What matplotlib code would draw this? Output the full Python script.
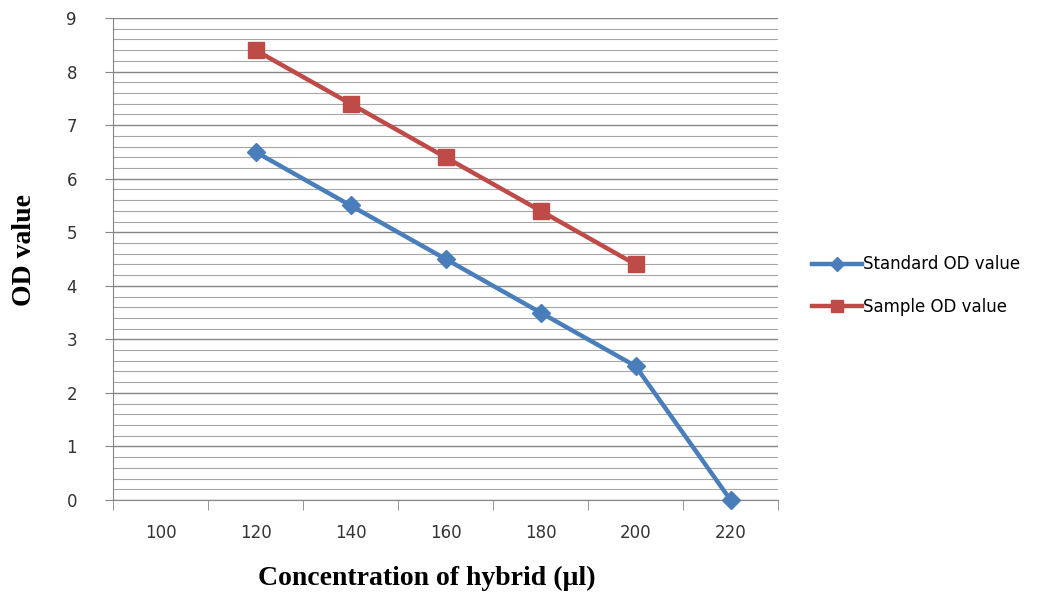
import numpy as np
import matplotlib.pyplot as plt
from matplotlib.ticker import MultipleLocator

categories = [100, 120, 140, 160, 180, 200, 220]
standard_od = [np.nan, 6.5, 5.5, 4.5, 3.5, 2.5, 0.0]
sample_od = [np.nan, 8.4, 7.4, 6.4, 5.4, 4.4, np.nan]

blue = "#4a7ebb"
red = "#be4b48"

fig = plt.figure(figsize=(10.38, 6.01), dpi=100)
ax = fig.add_axes([0.1089, 0.168, 0.6407, 0.802])

x = np.arange(len(categories))
ax.plot(x, standard_od, color=blue, lw=3.2, marker="D", markersize=9.5,
        label="Standard OD value", clip_on=False, zorder=3)
ax.plot(x, sample_od, color=red, lw=3.2, marker="s", markersize=11.5,
        label="Sample OD value", clip_on=False, zorder=3)

ax.set_xlim(-0.5, len(categories) - 0.5)
ax.set_ylim(0, 9)
ax.yaxis.set_major_locator(MultipleLocator(1))
ax.yaxis.set_minor_locator(MultipleLocator(0.2))
ax.grid(True, which="major", axis="y", color="#868686", lw=1.0)
ax.grid(True, which="minor", axis="y", color="#a6a6a6", lw=0.8)
ax.set_axisbelow(True)

# category labels at centres, tick marks between categories
ax.set_xticks(x)
ax.set_xticklabels([str(c) for c in categories])
ax.set_xticks(np.arange(len(categories) + 1) - 0.5, minor=True)
ax.tick_params(axis="x", which="major", length=0, pad=17, labelsize=12, colors="#333333")
ax.tick_params(axis="x", which="minor", length=7, color="#868686", direction="out")
ax.tick_params(axis="y", which="major", length=6, color="#868686", pad=20,
               labelsize=12, labelcolor="#333333")
ax.tick_params(axis="y", which="minor", length=0)
for lbl in ax.get_xticklabels() + ax.get_yticklabels():
    lbl.set_color("#333333")

for s in ["top", "right"]:
    ax.spines[s].set_visible(False)
for s in ["left", "bottom"]:
    ax.spines[s].set_color("#868686")

ax.set_xlabel("Concentration of hybrid (\u00b5l)", fontfamily="Liberation Serif",
              fontweight="bold", fontsize=20)
ax.set_ylabel("OD value", fontfamily="Liberation Serif", fontweight="bold",
              fontsize=20)
ax.xaxis.set_label_coords(0.472, -0.137)
ax.yaxis.set_label_coords(-0.114, 0.519)

fig.legend(loc="center left", bbox_to_anchor=(0.768, 0.525), frameon=False,
           fontsize=12, handlelength=3.0, handletextpad=0.05, labelspacing=1.45,
           markerscale=0.75)

fig.savefig("out.png", dpi=100)
